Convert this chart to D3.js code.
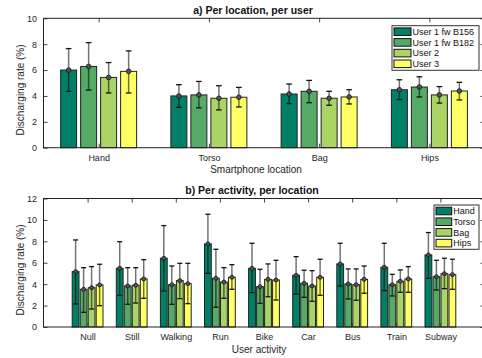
<!DOCTYPE html>
<html>
<head>
<meta charset="utf-8">
<script src="https://cdn.jsdelivr.net/npm/d3@7"></script>
<style>
body{margin:0;background:#fff;}
svg{display:block;font-family:"Liberation Sans",Arial,sans-serif;}
</style>
</head>
<body>
<div id="chart"></div>
<script>
var W=482, H=358;

// ---- data, panel a (rows = location, cols = user)
var locations=["Hand","Torso","Bag","Hips"];
var users=["User 1 fw B156","User 1 fw B182","User 2","User 3"];
var topMean=[[6.0,6.28,5.43,5.9],[4.0,4.08,3.82,3.9],[4.15,4.36,3.82,3.92],[4.48,4.69,4.08,4.38]];
var topLow =[[4.35,4.46,4.23,4.23],[3.12,3.08,2.92,3.15],[3.41,3.48,3.28,3.38],[3.72,3.92,3.45,3.69]];
var topHigh=[[7.66,8.12,6.58,7.48],[4.87,5.12,4.79,4.66],[4.92,5.2,4.36,4.48],[5.25,5.48,4.72,5.05]];
var topTicks=[0,2,4,6,8,10];

// ---- data, panel b (rows = activity, cols = location)
var activities=["Null","Still","Walking","Run","Bike","Car","Bus","Train","Subway"];
var botMean=[[5.17,3.52,3.67,3.93],[5.48,3.83,3.9,4.49],[6.42,3.95,4.33,4.05],[7.76,4.55,4.2,4.64],[5.48,3.77,4.45,4.39],
             [4.83,4.08,3.83,4.64],[5.89,4.02,3.95,4.45],[5.58,3.95,4.27,4.49],[6.73,4.7,4.98,4.89]];
var botLow =[[2.15,1.37,1.68,1.99],[2.96,2.12,2.24,2.68],[3.36,2.12,2.65,2.18],[5.01,1.84,2.68,3.52],[3.21,2.21,2.83,2.52],
             [3.08,2.77,2.4,2.96],[3.83,2.62,2.5,3.15],[3.4,2.9,3.24,3.24],[4.55,3.46,3.58,3.52]];
var botHigh=[[8.13,5.54,5.64,5.86],[7.97,5.54,5.54,6.29],[9.47,5.7,5.95,5.95],[10.53,7.26,5.54,5.82],[7.82,5.39,5.89,6.23],
             [6.57,5.3,5.26,6.33],[7.82,5.42,5.42,5.7],[7.82,4.92,5.33,5.64],[8.82,6.23,6.42,6.33]];
var botTicks=[0,2,4,6,8,10,12];

// summer colormap, 4 steps
var colors=["#008066","#55aa66","#aad466","#ffff66"];

var LEFT=43.5, RIGHT=484.5;

var svg=d3.select("#chart").append("svg").attr("width",W).attr("height",H);

function panel(o){
  var g=svg.append("g");
  var x=d3.scaleLinear().domain([0.5,o.cats.length+0.5]).range([LEFT,RIGHT]);
  if(o.xPad0) x.domain([0,o.cats.length+1]);
  var y=d3.scaleLinear().domain([0,o.ymax]).range([o.bottom,o.top]);
  var inner=d3.scaleBand().domain(o.series).range([-o.gw/2,o.gw/2]).paddingInner(o.pad).paddingOuter(o.pad/2);
  var idx=d3.range(1,o.cats.length+1);

  // axes (ticks inward)
  g.append("g").attr("transform","translate(0,"+o.bottom+")")
    .call(d3.axisBottom(x).tickValues(idx).tickFormat(function(d){return o.cats[d-1];})
      .tickSizeInner(-4).tickSizeOuter(0).tickPadding(6.6))
    .call(function(a){a.select(".domain").remove();a.selectAll("text").style("font-size","9px").attr("fill","#262626");a.selectAll("line").attr("stroke","#444");});
  g.append("g").attr("transform","translate(0,"+o.top+")")
    .call(d3.axisTop(x).tickValues(idx).tickFormat("").tickSizeInner(-4).tickSizeOuter(0))
    .call(function(a){a.select(".domain").remove();a.selectAll("line").attr("stroke","#444");});
  g.append("g").attr("transform","translate("+LEFT+",0)")
    .call(d3.axisLeft(y).tickValues(o.ticks).tickSizeInner(-4).tickSizeOuter(0).tickPadding(6.5))
    .call(function(a){a.select(".domain").remove();a.selectAll("text").style("font-size","9px").attr("fill","#262626");a.selectAll("line").attr("stroke","#444");});
  g.append("g").attr("transform","translate("+RIGHT+",0)")
    .call(d3.axisRight(y).tickValues(o.ticks).tickFormat("").tickSizeInner(-4).tickSizeOuter(0))
    .call(function(a){a.select(".domain").remove();a.selectAll("line").attr("stroke","#444");});

  // bars
  var rows=o.mean.map(function(r,i){
    return r.map(function(v,j){return {c:i+1,s:o.series[j],j:j,m:v,lo:o.low[i][j],hi:o.high[i][j]};});
  });
  var flat=[].concat.apply([],rows);
  var cx=function(d){return x(d.c)+inner(d.s)+inner.bandwidth()/2;};

  g.selectAll("rect.bar").data(flat).enter().append("rect").attr("class","bar")
    .attr("x",function(d){return x(d.c)+inner(d.s);})
    .attr("width",inner.bandwidth())
    .attr("y",function(d){return y(d.m);})
    .attr("height",function(d){return y(0)-y(d.m);})
    .attr("fill",function(d){return colors[d.j];})
    .attr("stroke","#222").attr("stroke-width",1);

  // error bars
  var eb=g.selectAll("g.eb").data(flat).enter().append("g").attr("class","eb");
  eb.append("line").attr("x1",cx).attr("x2",cx)
    .attr("y1",function(d){return y(d.lo);}).attr("y2",function(d){return y(d.hi);})
    .attr("stroke","#000").attr("stroke-opacity",0.55).attr("stroke-width",1.5);
  ["lo","hi"].forEach(function(k){
    eb.append("line").attr("x1",function(d){return cx(d)-o.cap;}).attr("x2",function(d){return cx(d)+o.cap;})
      .attr("y1",function(d){return y(d[k]);}).attr("y2",function(d){return y(d[k]);})
      .attr("stroke","#111").attr("stroke-width",1.3);
  });
  eb.append("circle").attr("cx",cx).attr("cy",function(d){return y(d.m);}).attr("r",o.r)
    .attr("fill","#555").attr("stroke","#111").attr("stroke-width",0.8);

  // box
  g.append("rect").attr("x",LEFT).attr("y",o.top).attr("width",RIGHT-LEFT).attr("height",o.bottom-o.top)
    .attr("fill","none").attr("stroke","#222").attr("stroke-width",1);

  // titles and labels
  g.append("text").attr("x",o.titleX).attr("y",o.titleY).attr("text-anchor","middle")
    .style("font-size","10.5px").style("font-weight","bold").attr("fill","#111").text(o.title);
  g.append("text").attr("x",o.xlabX).attr("y",o.xlabY).attr("text-anchor","middle")
    .style("font-size","10px").attr("fill","#262626").text(o.xlab);
  g.append("text").attr("transform","translate(23.5,"+o.ylabY+") rotate(-90)").attr("text-anchor","middle")
    .style("font-size","10px").attr("fill","#262626").text("Discharging rate (%)");

  // legend
  var L=o.legend;
  var lg=g.append("g");
  lg.append("rect").attr("x",L.x).attr("y",L.y).attr("width",L.w).attr("height",L.h)
    .attr("fill","#fff").attr("stroke","#333").attr("stroke-width",1);
  var it=lg.selectAll("g.it").data(o.series).enter().append("g").attr("class","it")
    .attr("transform",function(d,i){return "translate("+(L.x+2)+","+(L.y+6+i*10.7)+")";});
  it.append("rect").attr("x",0).attr("y",-3.8).attr("width",L.sw).attr("height",7.6)
    .attr("fill",function(d,i){return colors[i];}).attr("stroke","#111").attr("stroke-width",1);
  it.append("text").attr("x",L.sw+1.5).attr("y",3.3).style("font-size","9px").attr("fill","#111")
    .text(function(d){return d;});
}

panel({cats:locations,series:users,mean:topMean,low:topLow,high:topHigh,ticks:topTicks,ymax:10,
  top:18.3,bottom:147.7,gw:80,pad:0.2,cap:2.8,r:2.3,
  title:"a) Per location, per user",titleX:253,titleY:14,
  xlab:"Smartphone location",xlabX:256,xlabY:173,ylabY:90,
  legend:{x:392,y:25.7,w:87,h:44.6,sw:17}});

panel({cats:activities,series:locations,mean:botMean,low:botLow,high:botHigh,ticks:botTicks,ymax:12,xPad0:true,
  top:198.5,bottom:327,gw:32,pad:0.15,cap:2.5,r:2,
  title:"b) Per activity, per location",titleX:252,titleY:193.5,
  xlab:"User activity",xlabX:259,xlabY:353,ylabY:270,
  legend:{x:434,y:205,w:45,h:44.3,sw:15.7}});
</script>
</body>
</html>
